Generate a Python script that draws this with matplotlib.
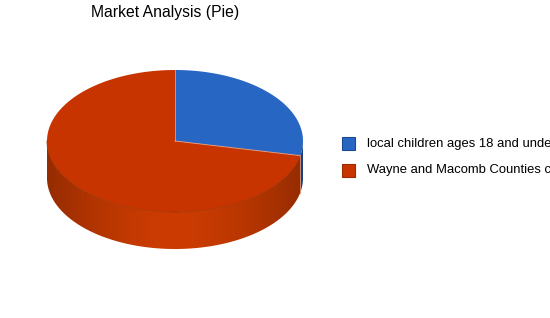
import numpy as np
import matplotlib
matplotlib.use("Agg")
import matplotlib.pyplot as plt
from matplotlib.patches import Polygon, Rectangle

title = "Market Analysis (Pie)"
labels = ["local children ages 18 and under", "Wayne and Macomb Counties children"]
values = [28.3, 71.7]
top_colors = ["#2866c4", "#c83400"]
side_colors = ["#2258b0", "#cc3c02"]
edge_colors = ["#1d4a90", "#9a2a00"]

W, H = 550, 318
fig = plt.figure(figsize=(W / 100, H / 100), dpi=100)
ax = fig.add_axes([0, 0, 1, 1])
ax.set_xlim(0, W)
ax.set_ylim(H, 0)
ax.axis("off")

cx, cy, rx, ry, depth = 175, 141, 128, 71, 37

def pt(theta_deg, dy=0.0):
    t = np.deg2rad(theta_deg)
    return cx + rx * np.cos(t), cy - ry * np.sin(t) + dy

total = sum(values)
ranges = []
start = 90.0
for v in values:
    span = 360.0 * v / total
    ranges.append((start - span, start))
    start -= span

# gradient profile across x
xs = np.linspace(-1, 1, 400)
prof = 1.0 - 0.27 * np.abs(xs) ** 1.6

for i, (a0, a1) in enumerate(ranges):
    rgb = np.array(matplotlib.colors.to_rgb(side_colors[i]))
    img = np.clip(prof[None, :, None] * rgb[None, None, :], 0, 1)
    img = np.repeat(img, 2, axis=0)
    for off in (-360, 0, 360):
        lo = max(a0 + off, 180)
        hi = min(a1 + off, 360)
        if hi <= lo:
            continue
        ts = np.linspace(lo, hi, 200)
        p = [pt(t) for t in ts] + [pt(t, depth) for t in ts[::-1]]
        poly = Polygon(p, closed=True, facecolor="none", edgecolor="none")
        ax.add_patch(poly)
        im = ax.imshow(img, extent=(cx - rx, cx + rx, cy + ry + depth + 2, cy - 2),
                       aspect="auto", interpolation="bilinear", zorder=1)
        im.set_clip_path(poly)

ax.set_xlim(0, W)
ax.set_ylim(H, 0)

# top wedges
for i, (a0, a1) in enumerate(ranges):
    ts = np.linspace(a0, a1, 200)
    pts = [(cx, cy)] + [pt(t) for t in ts]
    ax.add_patch(Polygon(pts, closed=True, facecolor=top_colors[i], edgecolor="none", zorder=2))

# subtle darker rim at front of top ellipse
ts = np.linspace(180, 348, 200)
rim = np.array([pt(t) for t in ts])
ax.plot(rim[:, 0], rim[:, 1], color="#a83000", lw=0.6, zorder=3)

# slice boundary lines
for a0, a1 in ranges:
    x, y = pt(a1)
    ax.plot([cx, x], [cy, y], color="#e8a080", lw=0.7, alpha=0.8, zorder=3)
x, y = pt(ranges[0][0])
ax.plot([x, x], [y, y + depth], color="#d89070", lw=0.6, zorder=3)

# legend
ly = [143.5, 170.5]
for i, lab in enumerate(labels):
    ax.add_patch(Rectangle((342, ly[i] - 6.5), 13, 13, facecolor=top_colors[i],
                           edgecolor=edge_colors[i], linewidth=0.8))
    ax.text(367, ly[i], lab, fontsize=9.4, family="Liberation Sans",
            va="center", ha="left", color="#000000")

ax.text(165, 12, title, fontsize=11.3, family="Liberation Sans",
        ha="center", va="center", color="#000000")

fig.savefig("out.png", dpi=100)
